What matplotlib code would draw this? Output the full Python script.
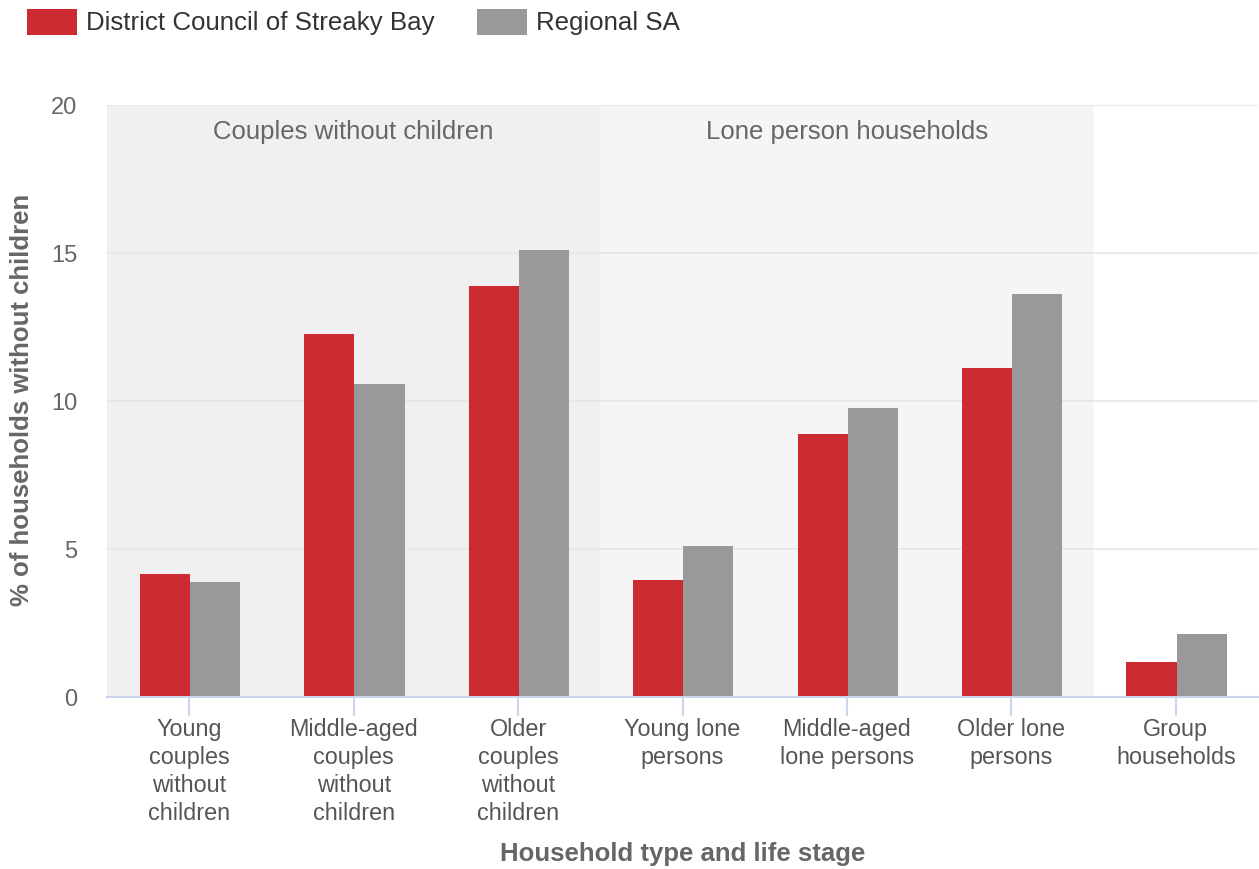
import matplotlib
matplotlib.use("Agg")
import matplotlib.pyplot as plt
from matplotlib.patches import Rectangle
import numpy as np

plt.rcParams['font.family'] = ['Liberation Sans', 'DejaVu Sans']

categories = ["Young\ncouples\nwithout\nchildren", "Middle-aged\ncouples\nwithout\nchildren",
              "Older\ncouples\nwithout\nchildren", "Young lone\npersons",
              "Middle-aged\nlone persons", "Older lone\npersons", "Group\nhouseholds"]
series_names = ["District Council of Streaky Bay", "Regional SA"]
streaky_bay = [4.16, 12.27, 13.89, 3.95, 8.89, 11.12, 1.18]
regional_sa = [3.89, 10.58, 15.11, 5.10, 9.77, 13.62, 2.13]
colors = ["#cc2b31", "#999999"]
bands = [("Couples without children", -0.5, 2.5, "#f0f0f0"),
         ("Lone person households", 2.5, 5.5, "#f5f5f5")]
yticks = [0, 5, 10, 15, 20]

W, H = 1259, 870
fig = plt.figure(figsize=(W / 100, H / 100), dpi=100)
ax = fig.add_axes([107 / W, 1 - 698 / H, (1258 - 107) / W, (698 - 106) / H])
ax.set_axisbelow(True)

for label, x0, x1, c in bands:
    ax.axvspan(x0, x1, color=c, zorder=0, lw=0)
    ax.text((x0 + x1) / 2, 19.12, label, ha='center', va='center', fontsize=18.5,
            color='#666666', zorder=3)

x = np.arange(len(categories))
bw = 0.305
ax.bar(x - bw / 2 + 0.005, streaky_bay, width=bw, color=colors[0], zorder=2, lw=0)
ax.bar(x + bw / 2 + 0.005, regional_sa, width=bw, color=colors[1], zorder=2, lw=0)

ax.set_xlim(-0.5, len(categories) - 0.5)
ax.set_ylim(0, 20)
ax.set_yticks(yticks)
ax.set_yticklabels([str(t) for t in yticks])
ax.yaxis.grid(True, color='#e6e6e6', lw=1.2)
ax.tick_params(axis='y', length=0, labelsize=17, labelcolor='#666666', pad=21.5)
ax.set_xticks(x)
ax.set_xticklabels(categories, fontsize=16.8, color='#555555', linespacing=1.28)
ax.tick_params(axis='x', length=13.5, color='#ccd6eb', width=1.5, pad=1)
for s in ['top', 'right', 'left']:
    ax.spines[s].set_visible(False)
ax.spines['bottom'].set_color('#ccd6eb')
ax.spines['bottom'].set_linewidth(1.5)
ax.spines['bottom'].set_zorder(3)

ax.set_xlabel("Household type and life stage", fontsize=18.5, fontweight='bold',
              color='#666666', labelpad=12)
fig.text(22 / W, 1 - 400 / H, "% of households without children", rotation=90,
         ha='center', va='center', fontsize=18.5, fontweight='bold', color='#666666')

# legend
leg_x = [27, 477]
for name, c, lx in zip(series_names, colors, leg_x):
    fig.patches.append(Rectangle((lx / W, 1 - 36 / H), 50 / W, 26 / H,
                                 transform=fig.transFigure, color=c, lw=0))
    fig.text((lx + 59) / W, 1 - 23 / H, name, ha='left', va='center',
             fontsize=18.6, color='#333333')

fig.savefig("out.png", dpi=100)
